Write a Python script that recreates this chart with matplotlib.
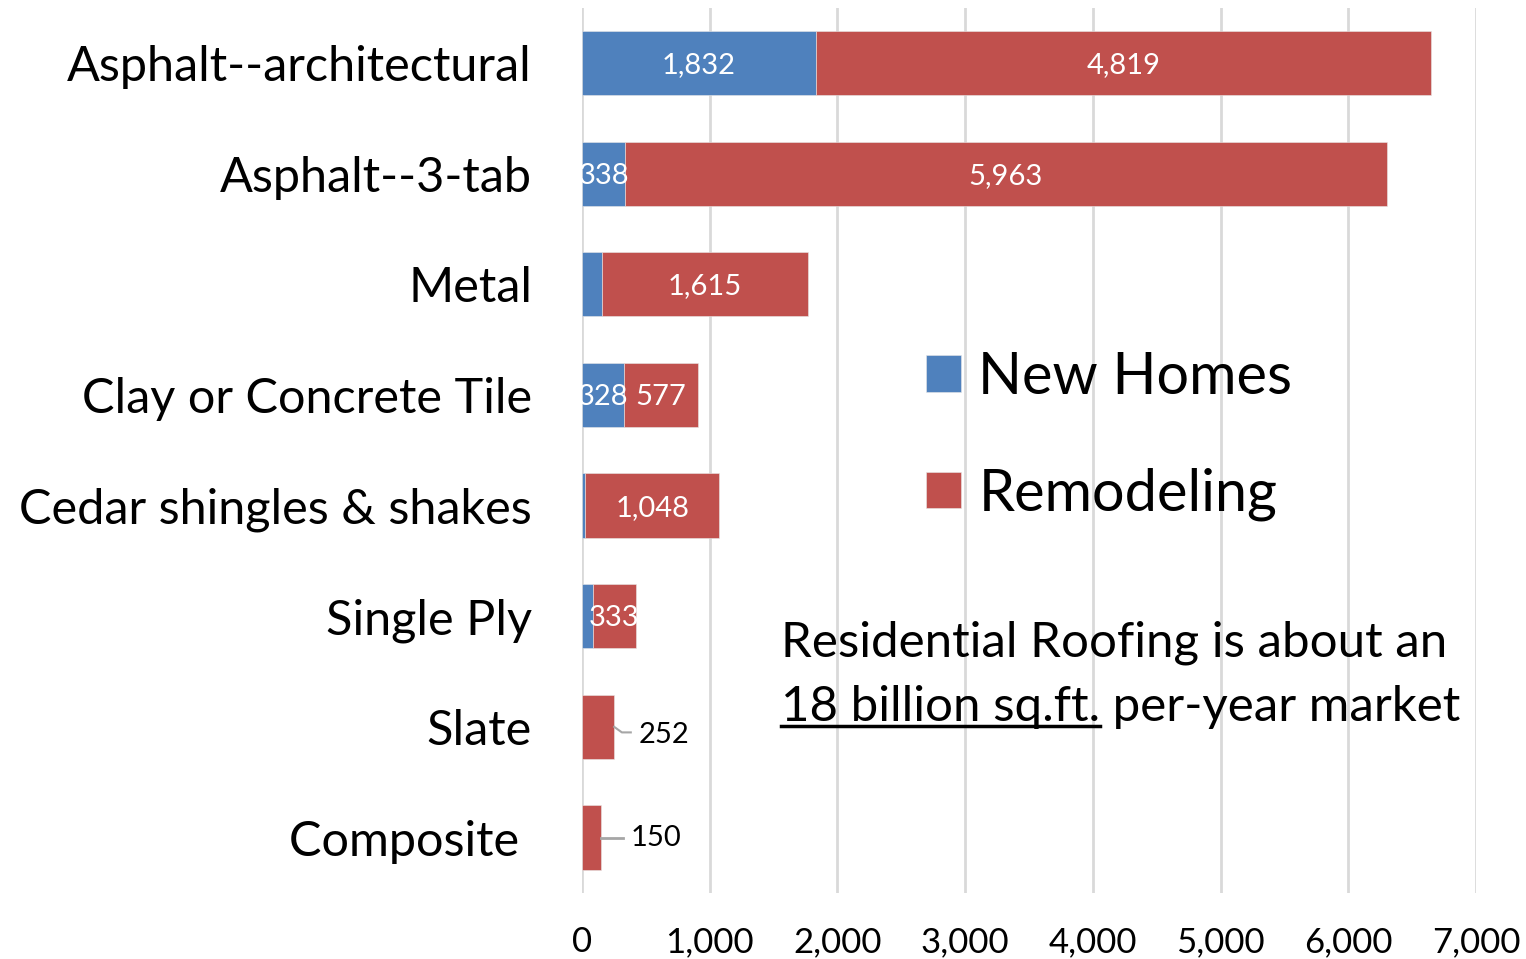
import matplotlib
matplotlib.use("Agg")
import matplotlib.pyplot as plt
from matplotlib.lines import Line2D

categories = ["Asphalt--architectural", "Asphalt--3-tab", "Metal", "Clay or Concrete Tile",
              "Cedar shingles & shakes", "Single Ply", "Slate", "Composite "]
new_homes = [1832, 338, 155, 328, 25, 88, 0, 0]
remodeling = [4819, 5963, 1615, 577, 1048, 333, 252, 150]
xticks = [0, 1000, 2000, 3000, 4000, 5000, 6000, 7000]

BLUE = "#4F81BD"
RED = "#C0504D"
GRID = "#d9d9d9"

plt.rcParams["font.family"] = ["Lato", "DejaVu Sans"]

fig = plt.figure(figsize=(15.26, 9.59), dpi=100)
ax = fig.add_axes([0.3814, 0.069, 0.5858, 0.923])

y = list(range(len(categories)))
h = 0.58
ax.barh(y, new_homes, height=h, color=BLUE, edgecolor="#e8e8e8", linewidth=0.4, label="New Homes")
ax.barh(y, remodeling, height=h, left=new_homes, color=RED, edgecolor="#e8e8e8", linewidth=0.4,
        label="Remodeling")

ax.set_ylim(len(categories) - 0.5, -0.5)
ax.set_xlim(0, 7000)
ax.set_xticks(xticks)
ax.set_xticklabels([f"{v:,}" for v in xticks], fontsize=25)
ax.set_yticks(y)
ax.set_yticklabels(categories, fontsize=35)
ax.tick_params(length=0)
ax.tick_params(axis="y", pad=36)
ax.tick_params(axis="x", pad=24)
for s in ax.spines.values():
    s.set_visible(False)
ax.grid(axis="x", color=GRID, lw=2)
ax.set_axisbelow(True)

# data labels inside segments
for i, (n, r) in enumerate(zip(new_homes, remodeling)):
    if n >= 300:
        ax.text(n / 2, i + 0.02, f"{n:,}", ha="center", va="center", color="white", fontsize=21,
                clip_on=True)
    if r >= 300:
        ax.text(n + r / 2, i + 0.02, f"{r:,}", ha="center", va="center", color="white", fontsize=21,
                clip_on=True)

# leader-line labels for tiny bars
i = categories.index("Slate")
end = new_homes[i] + remodeling[i]
ax.plot([end, end + 60, end + 130], [i, i + 0.05, i + 0.05], color="#a6a6a6", lw=1.5)
ax.text(end + 190, i + 0.07, f"{remodeling[i]}", ha="left", va="center", fontsize=21)
i = len(categories) - 1
end = new_homes[i] + remodeling[i]
ax.plot([end, end + 170], [i, i], color="#a6a6a6", lw=2)
ax.text(end + 230, i, f"{remodeling[i]}", ha="left", va="center", fontsize=21)

ax.legend(loc="upper left", bbox_to_anchor=(0.353, 0.645), frameon=False, fontsize=41.5,
          handlelength=0.6, handleheight=0.6, handletextpad=0.3, labelspacing=1.1, borderpad=0)

# annotation text
t1 = fig.text(0.512, 0.330, "Residential Roofing is about an", fontsize=35.5, va="center", ha="left")
t2 = fig.text(0.512, 0.263, "18 billion sq.ft.", fontsize=35.5, va="center", ha="left")
ax.annotate(" per-year market", xy=(1, 0), xycoords=t2, fontsize=35.5, va="bottom", ha="left")

fig.canvas.draw()
bb = t2.get_window_extent()
fig.add_artist(Line2D([bb.x0, bb.x1], [bb.y0 + 3, bb.y0 + 3], transform=None, color="black", lw=2.5))

fig.savefig("out.png")
